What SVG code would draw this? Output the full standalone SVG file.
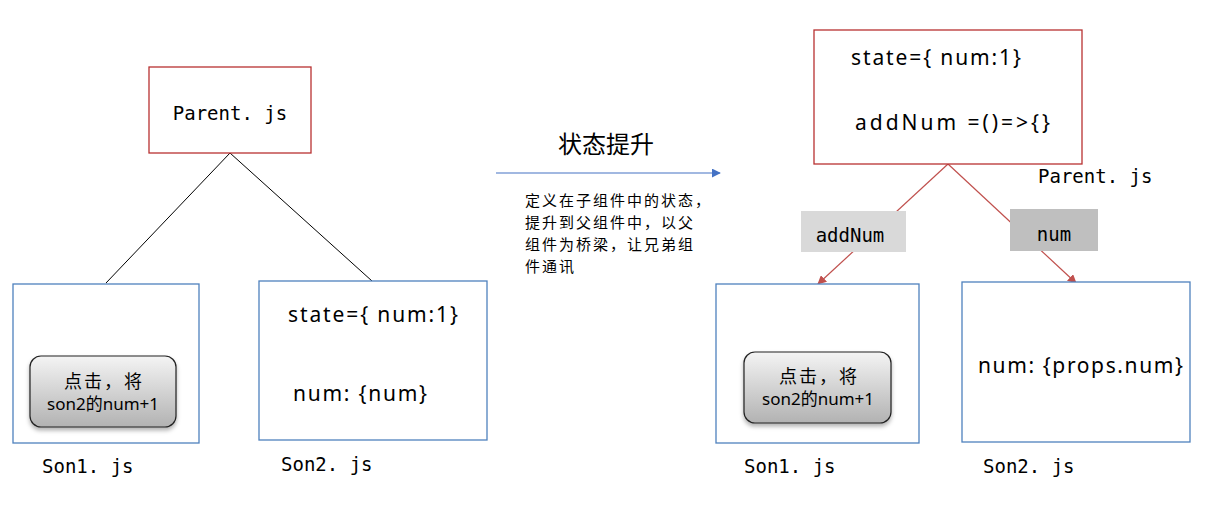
<svg xmlns="http://www.w3.org/2000/svg" width="1212" height="505" viewBox="0 0 1212 505">
<defs>
<style>
.red{fill:#fff;stroke:#b83232;stroke-width:1.3}
.blue{fill:#fff;stroke:#4f81bd;stroke-width:1.3}
.mono{font-family:"DejaVu Sans Mono","Noto Sans CJK SC",monospace;font-size:19px;fill:#000}
.code{font-family:"Noto Sans","Liberation Sans","Noto Sans CJK SC",sans-serif;font-size:21px;fill:#000}
.cjk{font-family:"Noto Sans CJK SC",sans-serif;fill:#000}
.btn{stroke:#222;stroke-width:1.2;fill:url(#g)}
.bt{font-family:"Noto Sans","Noto Sans CJK SC",sans-serif;font-size:17px;fill:#000;text-anchor:middle}
.bt1{font-size:18px;letter-spacing:2px}
</style>
<linearGradient id="g" x1="0" y1="0" x2="0" y2="1">
<stop offset="0" stop-color="#f4f4f4"/>
<stop offset="1" stop-color="#b2b2b2"/>
</linearGradient>
<filter id="sh" x="-10%" y="-10%" width="130%" height="140%">
<feDropShadow dx="0" dy="3" stdDeviation="2" flood-color="#000" flood-opacity="0.3"/>
</filter>
<marker id="ar" viewBox="0 0 10 10" refX="9" refY="5" markerWidth="9" markerHeight="9" markerUnits="userSpaceOnUse" orient="auto">
<path d="M0,0 L10,5 L0,10 z" fill="#c0504d"/>
</marker>
<marker id="ab" viewBox="0 0 10 10" refX="9" refY="5" markerWidth="9" markerHeight="9" markerUnits="userSpaceOnUse" orient="auto">
<path d="M0,0 L10,5 L0,10 z" fill="#4472c4"/>
</marker>
</defs>
<rect width="1212" height="505" fill="#fff"/>

<g id="connectors">
<line x1="230" y1="153" x2="106" y2="283" stroke="#000" stroke-width="1"/>
<line x1="230" y1="153" x2="372" y2="281" stroke="#000" stroke-width="1"/>
<line x1="496" y1="173" x2="720" y2="173" stroke="#4472c4" stroke-width="1.2" marker-end="url(#ab)"/>
<line x1="948" y1="164" x2="818" y2="284" stroke="#c0504d" stroke-width="1.2" marker-end="url(#ar)"/>
<line x1="948" y1="164" x2="1076" y2="283" stroke="#c0504d" stroke-width="1.2" marker-end="url(#ar)"/>
</g>

<g id="parent-left">
<rect class="red" x="149" y="67" width="162" height="86"/>
<text class="mono" x="230" y="120" text-anchor="middle">Parent. js</text>
</g>

<g id="son1-left">
<rect class="blue" x="13" y="284" width="186" height="159"/>
<rect class="btn" x="30" y="356" width="146" height="71" rx="11" filter="url(#sh)"/>
<text class="bt bt1" x="104" y="388">点击，将</text>
<text class="bt" x="103" y="410">son2的num+1</text>
<text class="mono" x="42" y="473">Son1. js</text>
</g>

<g id="son2-left">
<rect class="blue" x="259" y="281" width="228" height="159"/>
<text class="code" x="288" y="322" textLength="170">state={ num:1}</text>
<text class="code" x="293" y="401" textLength="134">num: {num}</text>
<text class="mono" x="281" y="471">Son2. js</text>
</g>

<g id="label-middle">
<text class="cjk" x="558" y="153" font-size="24">状态提升</text>
<text class="cjk" font-size="15" letter-spacing="2">
<tspan x="525" y="206">定义在子组件中的状态，</tspan>
<tspan x="525" y="228">提升到父组件中，以父</tspan>
<tspan x="525" y="250">组件为桥梁，让兄弟组</tspan>
<tspan x="525" y="272">件通讯</tspan>
</text>
</g>

<g id="parent-right">
<rect class="red" x="814" y="30" width="268" height="134"/>
<text class="code" x="851" y="65" textLength="170">state={ num:1}</text>
<text class="code" x="855" y="130" textLength="195">addNum =()=&gt;{}</text>
<text class="mono" x="1038" y="183">Parent. js</text>
</g>

<g id="label-addNum">
<rect x="801" y="211" width="105" height="41" fill="#d9d9d9"/>
<text class="mono" x="850" y="242" text-anchor="middle" font-size="21">addNum</text>
</g>

<g id="label-num">
<rect x="1010" y="209" width="88" height="42" fill="#bfbfbf"/>
<text class="mono" x="1054" y="241" text-anchor="middle" font-size="21">num</text>
</g>

<g id="son1-right">
<rect class="blue" x="716" y="284" width="203" height="159"/>
<rect class="btn" x="744" y="352" width="147" height="71" rx="11" filter="url(#sh)"/>
<text class="bt bt1" x="819" y="383">点击，将</text>
<text class="bt" x="818" y="405">son2的num+1</text>
<text class="mono" x="744" y="473">Son1. js</text>
</g>

<g id="son2-right">
<rect class="blue" x="962" y="282" width="228" height="160"/>
<text class="code" x="978" y="373" textLength="205">num: {props.num}</text>
<text class="mono" x="983" y="473">Son2. js</text>
</g>
</svg>
